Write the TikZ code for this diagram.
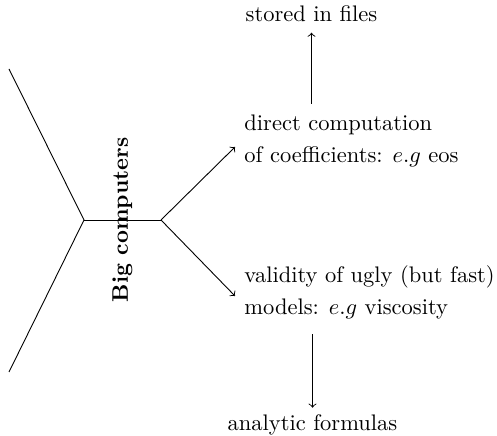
\documentclass[tikz,border=0pt]{standalone}
\usetikzlibrary{calc}
\begin{document}
\begin{tikzpicture}[x=0.4444pt,y=-0.4444pt,
  txt/.style={inner sep=0pt, anchor=base west},
  ctr/.style={inner sep=0pt, anchor=base},
  conn/.style={->, line width=0.4pt},
  plain/.style={line width=0.4pt}]
\useasboundingbox (0,0) rectangle (497,436);
\coordinate (tl) at (9,69);
\coordinate (bl) at (9,372);
\coordinate (j1) at (84,220);
\coordinate (j2) at (161,220);
\node[font=\bfseries, rotate=90, inner sep=0pt] (bc) at (122.5,220) {Big computers};
\node[txt] (dc1) at (244,131) {direct computation};
\node[txt] (dc2) at (244,163) {of coefficients: $e.g$ eos};
\node[txt] (vu1) at (244,283) {validity of ugly (but fast)};
\node[txt] (vu2) at (244,315) {models: $e.g$ viscosity};
\node[ctr] (sf) at (311.5,22) {stored in files};
\node[ctr] (af) at (312.5,431) {analytic formulas};
\coordinate (a1) at ($(dc1.base west)!0.5!(dc2.base west)+(-9,0)$);
\coordinate (a2) at ($(vu1.base west)!0.5!(vu2.base west)+(-9,-3)$);
\draw[plain] (tl) -- (j1) -- (bl);
\draw[plain] (j1) -- (j2);
\draw[conn] (j2) -- (a1);
\draw[conn] (j2) -- (a2);
\draw[conn] ($(sf.south |- dc1.north)+(0,-11)$) -- ($(sf.south)+(0,10)$);
\draw[conn] ($(af.north |- vu2.south)+(0,14)$) -- ($(af.north)+(0,-7)$);
\end{tikzpicture}
\end{document}
